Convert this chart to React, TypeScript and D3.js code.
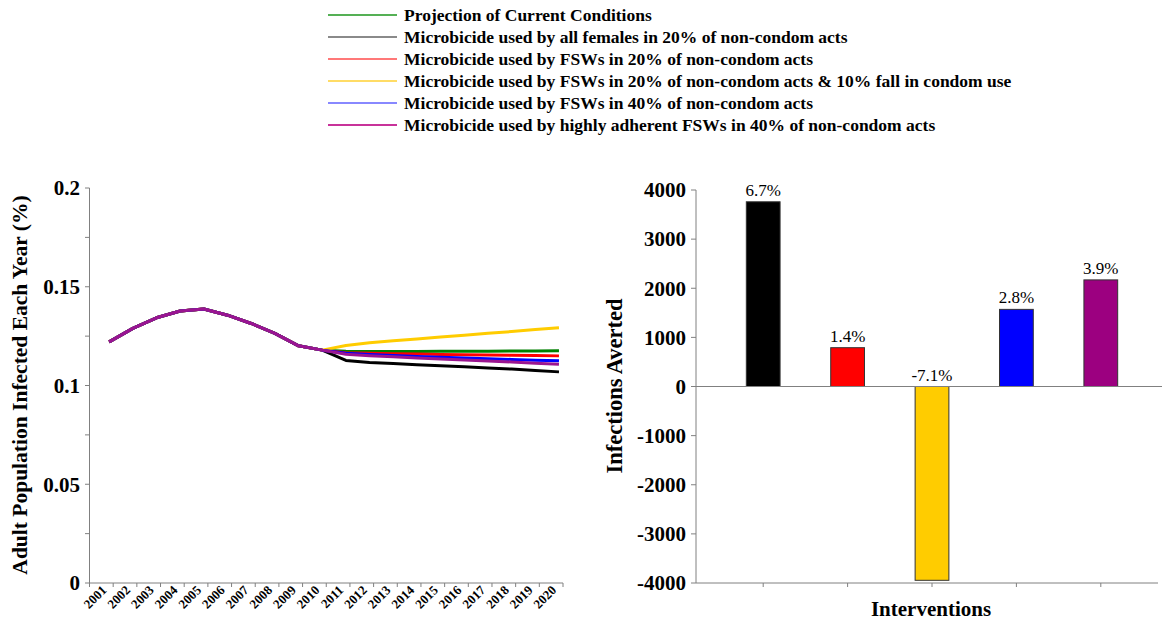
import React from 'react';
import * as d3 from 'd3';

// Left chart: annual incidence (%), 2001-2020
const years = d3.range(2001, 2021);
const baseline = [0.1221, 0.1289, 0.1343, 0.1377, 0.1387, 0.1356, 0.1314, 0.1264, 0.1201, 0.1179];
const currentProj = [0.1173, 0.1172, 0.1172, 0.1172, 0.1173, 0.1173, 0.1174, 0.1175, 0.1175, 0.1176];
const allFemales20 = [0.1127, 0.1116, 0.1111, 0.1105, 0.11, 0.1095, 0.1089, 0.1083, 0.1076, 0.1069];
const fsw20 = [0.1166, 0.1163, 0.1161, 0.1159, 0.1157, 0.1156, 0.1155, 0.1153, 0.1152, 0.115];
const fsw20Fall = [0.1203, 0.1217, 0.1227, 0.1236, 0.1246, 0.1255, 0.1264, 0.1273, 0.1283, 0.1292];
const fsw40 = [0.1163, 0.1157, 0.1152, 0.1147, 0.1143, 0.1139, 0.1135, 0.1132, 0.1128, 0.1125];
const fsw40Adherent = [0.1158, 0.1151, 0.1145, 0.1139, 0.1134, 0.1129, 0.1124, 0.1119, 0.1113, 0.1108];

const legendLabels = [
  'Projection of Current Conditions',
  'Microbicide used by all females in 20% of non-condom acts',
  'Microbicide used by FSWs in 20% of non-condom acts',
  'Microbicide used by FSWs in 20% of non-condom acts & 10% fall in condom use',
  'Microbicide used by FSWs in 40% of non-condom acts',
  'Microbicide used by highly adherent FSWs in 40% of non-condom acts',
];
const lineColors = ['#008000', '#000000', '#ff0000', '#ffcc00', '#0000ff', '#9b1590'];
const legendColors = ['#55b055', '#8a8a8a', '#ff7878', '#ffdc66', '#8888ff', '#c8329a'];

// Right chart: infections averted per intervention
const interventions = ['allFemales20', 'fsw20', 'fsw20Fall', 'fsw40', 'fsw40Adherent'];
const averted = [3760, 790, -3945, 1570, 2170];
const avertedPct = ['6.7%', '1.4%', '-7.1%', '2.8%', '3.9%'];
const barColors = ['#000000', '#ff0000', '#ffcc00', '#0000ff', '#9c0080'];

const leftTicks = [0, 0.025, 0.05, 0.075, 0.1, 0.125, 0.15, 0.175, 0.2];
const rightTicks = [-4000, -3000, -2000, -1000, 0, 1000, 2000, 3000, 4000];

const serif = '"Liberation Serif", "Times New Roman", serif';
const axisGrey = '#808080';

export default function App() {
  const series = [currentProj, allFemales20, fsw20, fsw20Fall, fsw40, fsw40Adherent].map(s => [
    ...baseline,
    ...s,
  ]);
  // purple is drawn last so it covers the shared baseline
  const order = [0, 1, 2, 3, 4, 5];

  // Left scales
  const xL = d3.scaleLinear().domain([2000.5, 2020.5]).range([89.5, 563]);
  const yL = d3.scaleLinear().domain([0, 0.2]).range([583, 188]);
  const line = d3
    .line<number>()
    .x((_, i) => xL(years[i] + 0.33))
    .y(d => yL(d));

  // Right scales
  const xR = d3.scaleBand<string>().domain(interventions).range([721, 1143]).paddingInner(0.6).paddingOuter(0.3);
  const yR = d3.scaleLinear().domain([-4000, 4000]).range([583, 190]);

  const boundaries = d3.range(2000.5, 2021.5, 1);

  return (
    <svg
      width={1162}
      height={622}
      style={{ position: 'absolute', left: 0, top: 0, background: '#fff' }}
      fontFamily={serif}
    >
      {/* Legend */}
      <g>
        {legendLabels.map((lab, i) => (
          <g key={lab} transform={`translate(0, ${15 + i * 22})`}>
            <line x1={328} x2={397} y1={0} y2={0} stroke={legendColors[i]} strokeWidth={2} />
            <text x={404} y={5.5} fontSize={17.5} fontWeight="bold" fill="#000">
              {lab}
            </text>
          </g>
        ))}
      </g>

      {/* Left chart axes */}
      <g>
        <line x1={89.5} x2={89.5} y1={yL(0.2)} y2={yL(0)} stroke={axisGrey} />
        {leftTicks.map(t => (
          <line key={t} x1={85} x2={89.5} y1={yL(t)} y2={yL(t)} stroke={axisGrey} />
        ))}
        {leftTicks
          .filter((_, i) => i % 2 === 0)
          .map(t => (
            <text key={t} x={80} y={yL(t)} dy="0.35em" textAnchor="end" fontSize={21} fontWeight="bold">
              {d3.format('~g')(t)}
            </text>
          ))}
        <line x1={89.5} x2={563} y1={583} y2={583} stroke={axisGrey} />
        {boundaries.map(b => (
          <line key={b} x1={xL(b)} x2={xL(b)} y1={583} y2={587} stroke={axisGrey} />
        ))}
        {years.map(yr => (
          <text
            key={yr}
            transform={`translate(${xL(yr) + 6}, ${591}) rotate(-45)`}
            textAnchor="end"
            fontSize={13}
            fontWeight="bold"
          >
            {yr}
          </text>
        ))}
        <text
          transform={`translate(27, ${385}) rotate(-90)`}
          textAnchor="middle"
          fontSize={21.5}
          fontWeight="bold"
        >
          Adult Population Infected Each Year (%)
        </text>
      </g>

      {/* Left chart lines */}
      <g>
        {order.map(i => (
          <path
            key={i}
            d={line(series[i]) || ''}
            fill="none"
            stroke={lineColors[i]}
            strokeWidth={3}
            strokeLinejoin="round"
          />
        ))}
      </g>

      {/* Right chart axes */}
      <g>
        <line x1={696} x2={696} y1={yR(4000)} y2={yR(-4000)} stroke={axisGrey} />
        {rightTicks.map(t => (
          <g key={t}>
            <line x1={691} x2={696} y1={yR(t)} y2={yR(t)} stroke={axisGrey} />
            <text x={686} y={yR(t)} dy="0.35em" textAnchor="end" fontSize={21} fontWeight="bold">
              {t}
            </text>
          </g>
        ))}
        <line x1={696} x2={1158} y1={yR(-4000)} y2={yR(-4000)} stroke={axisGrey} />
        {interventions.map(c => (
          <line
            key={c}
            x1={(xR(c) || 0) + xR.bandwidth() / 2}
            x2={(xR(c) || 0) + xR.bandwidth() / 2}
            y1={yR(-4000)}
            y2={yR(-4000) + 4}
            stroke={axisGrey}
          />
        ))}
        <text
          transform={`translate(622, ${386}) rotate(-90)`}
          textAnchor="middle"
          fontSize={22.5}
          fontWeight="bold"
        >
          Infections Averted
        </text>
        <text x={931} y={616} textAnchor="middle" fontSize={21} fontWeight="bold">
          Interventions
        </text>
      </g>

      {/* Bars */}
      <g>
        {interventions.map((c, i) => {
          const v = averted[i];
          const x = xR(c) || 0;
          const y0 = yR(Math.max(0, v));
          const y1 = yR(Math.min(0, v));
          return (
            <g key={c}>
              <rect x={x} y={y0} width={xR.bandwidth()} height={y1 - y0} fill={barColors[i]} stroke="#333" strokeWidth={1} />
              <text x={x + xR.bandwidth() / 2} y={yR(Math.max(0, v)) - 6} textAnchor="middle" fontSize={17}>
                {avertedPct[i]}
              </text>
            </g>
          );
        })}
        <line x1={696} x2={1162} y1={yR(0)} y2={yR(0)} stroke={axisGrey} />
      </g>
    </svg>
  );
}
